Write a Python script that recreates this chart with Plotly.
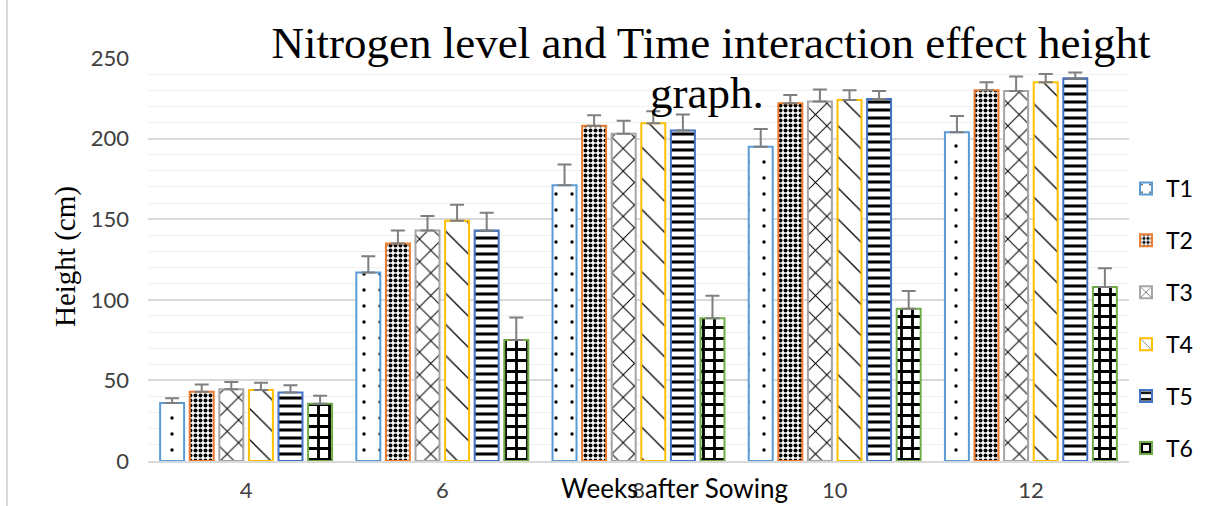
import plotly.graph_objects as go

weeks = ["4", "6", "8", "10", "12"]
series_names = ["T1", "T2", "T3", "T4", "T5", "T6"]

t1 = [36, 117, 171, 195, 204]
t2 = [43, 135, 208, 222, 230]
t3 = [44.5, 143, 203, 223, 229.5]
t4 = [44, 149, 209.5, 224, 235]
t5 = [42.5, 143, 205, 224.5, 237.5]
t6 = [35.5, 75, 88.5, 94.5, 108]

t1_err = [3, 10, 13, 11, 10]
t2_err = [4.5, 8, 6.5, 5, 5]
t3_err = [4.5, 9, 8, 7.5, 9]
t4_err = [4.5, 10, 7.5, 6, 5]
t5_err = [4.5, 11, 10, 5, 3.5]
t6_err = [5, 14, 14, 11, 11.5]

values = [t1, t2, t3, t4, t5, t6]
errors = [t1_err, t2_err, t3_err, t4_err, t5_err, t6_err]

border_colors = ["#5B9BD5", "#ED7D31", "#A5A5A5", "#FFC000", "#4472C4", "#70AD47"]
patterns = [
    dict(shape=".", size=16, solidity=0.035),
    dict(shape=".", size=5, solidity=0.5),
    dict(shape="x", size=16, solidity=0.12),
    dict(shape="\\", size=22, solidity=0.06),
    dict(shape="-", size=8, solidity=0.38),
    dict(shape="+", size=11, solidity=0.45),
]

fig = go.Figure()
for name, vals, errs, col, pat in zip(series_names, values, errors, border_colors, patterns):
    fig.add_trace(go.Bar(
        name=name,
        x=weeks,
        y=vals,
        legendgroup=name,
        marker=dict(
            color="white",
            line=dict(color=col, width=2),
            pattern=dict(fgcolor="black", bgcolor="white", fillmode="replace", **pat),
        ),
        error_y=dict(type="data", array=errs, arrayminus=[0] * len(errs), symmetric=False,
                     color="#7F7F7F", thickness=2, width=7),
    ))

fig.update_layout(
    width=1215, height=506,
    paper_bgcolor="white", plot_bgcolor="white",
    margin=dict(l=148, r=86, t=58, b=45, autoexpand=False),
    barmode="group", bargap=0.095, bargroupgap=0.19,
    font=dict(family="Lato", size=22, color="#000000"),
    title=dict(text="Nitrogen level and Time interaction effect height",
               font=dict(family="Liberation Serif", size=45, color="black"),
               x=711 / 1215, xanchor="center", xref="container",
               y=1 - 42 / 506, yanchor="middle", yref="container"),
    legend=dict(x=(1126 - 148) / 981, xanchor="left", y=0.3536, yanchor="middle",
                font=dict(family="Lato", size=23), tracegroupgap=19,
                bgcolor="rgba(0,0,0,0)"),
    showlegend=True,
)

fig.update_xaxes(
    automargin=False,
    showgrid=False, showline=True, linecolor="#D9D9D9", linewidth=2,
    ticks="", ticklabelstandoff=9, tickfont=dict(family="Lato", size=22, color="#404040"),
)
fig.update_yaxes(
    automargin=False,
    range=[0, 250], dtick=50, showgrid=True, gridcolor="#D9D9D9", gridwidth=1.5,
    zeroline=False, showline=False, ticks="", ticklabelstandoff=18,
    tickfont=dict(family="Lato", size=22, color="#404040"),
    minor=dict(dtick=10, showgrid=True, gridcolor="#F0F0F0", gridwidth=1),
)

fig.add_annotation(text="Height (cm)", xref="paper", yref="paper",
                   x=(65 - 148) / 981, y=(461 - 257) / 403, textangle=-90,
                   xanchor="center", yanchor="middle", showarrow=False,
                   font=dict(family="Liberation Serif", size=29, color="black"))
fig.add_annotation(text="graph.", xref="paper", yref="paper",
                   x=(707 - 148) / 981, y=(461 - 92.6) / 403,
                   xanchor="center", yanchor="middle", showarrow=False,
                   font=dict(family="Liberation Serif", size=45, color="black"))
fig.add_annotation(text="Weeks after Sowing", xref="paper", yref="paper",
                   x=(674 - 148) / 981, y=(461 - 488) / 403,
                   xanchor="center", yanchor="middle", showarrow=False,
                   font=dict(family="Lato", size=26, color="#000000"))
fig.add_shape(type="line", xref="paper", yref="paper",
              x0=(7 - 148) / 981, x1=(7 - 148) / 981, y0=-0.12, y1=1.15,
              line=dict(color="#D9D9D9", width=2))

fig.write_html("out.html", config={"displayModeBar": False},
               post_script="document.body.style.margin='0';")
